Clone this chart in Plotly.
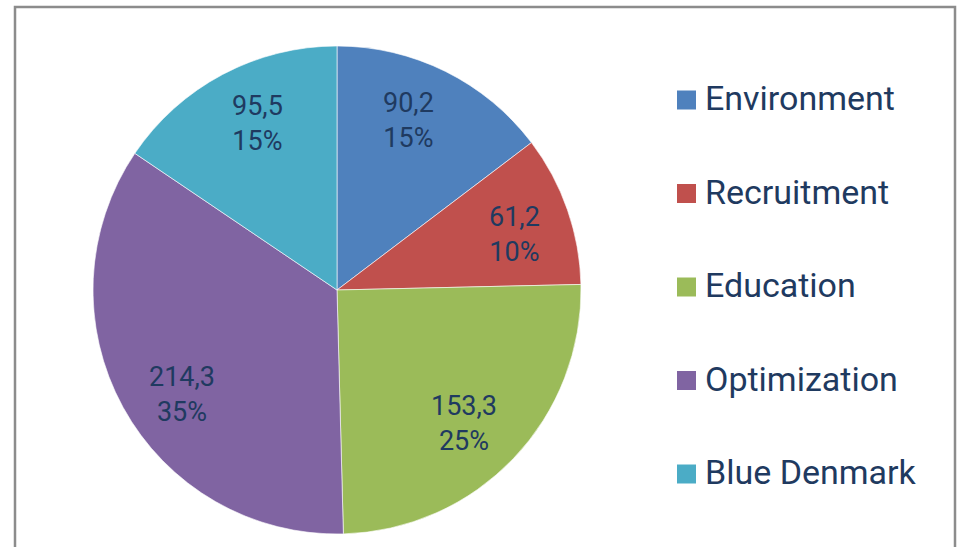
import math
import plotly.graph_objects as go

LABELS = ["Environment", "Recruitment", "Education", "Optimization", "Blue Denmark"]
VALUES = [90.2, 61.2, 153.3, 214.3, 95.5]
PERCENT_LABELS = ["15%", "10%", "25%", "35%", "15%"]
COLORS = ["#4F81BD", "#C0504D", "#9BBB59", "#8064A2", "#4BACC6"]

W, H = 957, 547
TEXT_COLOR = "#1F3A60"

value_text = [f"{v:.1f}".replace(".", ",") for v in VALUES]
slice_text = [f"{a}<br>{b}" for a, b in zip(value_text, PERCENT_LABELS)]

# pie geometry (pixels)
cx, cy, r = 337, 290, 244
LABEL_RADIUS_FRAC = 0.755
# small pixel nudges mimicking the spreadsheet's "best fit" label placement
LABEL_NUDGE = [(-10, -5), (4, 5), (-6, 6), (7, 16), (7, -4)]

fig = go.Figure(
    go.Pie(
        labels=LABELS,
        values=VALUES,
        text=slice_text,
        textinfo="none",
        sort=False,
        direction="clockwise",
        rotation=0,
        marker=dict(colors=COLORS, line=dict(color="white", width=0.6)),
        showlegend=False,
        hovertemplate="%{label}: %{value}<extra></extra>",
        domain=dict(x=[(cx - r) / W, (cx + r) / W], y=[1 - (cy + r) / H, 1 - (cy - r) / H]),
    )
)

annotations = []
# slice labels placed along each slice's mid-angle
total = sum(VALUES)
cum = 0.0
for v, t, (nx, ny) in zip(VALUES, slice_text, LABEL_NUDGE):
    mid = (cum + v / 2) / total * 2 * math.pi
    cum += v
    d = r * LABEL_RADIUS_FRAC
    px = cx + d * math.sin(mid) + nx
    py = cy - d * math.cos(mid) + ny
    annotations.append(dict(text=t, xref="paper", yref="paper",
                            x=px / W, y=1 - py / H, xanchor="center", yanchor="middle",
                            showarrow=False, align="center",
                            font=dict(family="Roboto", size=27, color=TEXT_COLOR)))

shapes = [
    dict(type="rect", xref="paper", yref="paper",
         x0=15 / W, x1=955 / W, y0=-0.05, y1=1 - 7 / H,
         line=dict(color="#8C8C8C", width=2.5), fillcolor="rgba(0,0,0,0)", layer="below")
]
leg_x0, sq = 677, 19
for i, (lab, col) in enumerate(zip(LABELS, COLORS)):
    yc = 100 + i * 93.5
    shapes.append(dict(type="rect", xref="paper", yref="paper",
                       x0=leg_x0 / W, x1=(leg_x0 + sq) / W,
                       y0=1 - (yc + sq / 2) / H, y1=1 - (yc - sq / 2) / H,
                       fillcolor=col, line=dict(width=0)))
    annotations.append(dict(text=lab, xref="paper", yref="paper",
                            x=703 / W, y=1 - (yc - 2) / H, xanchor="left", yanchor="middle",
                            showarrow=False,
                            font=dict(family="Roboto", size=34, color=TEXT_COLOR)))

fig.update_layout(
    width=W, height=H,
    margin=dict(l=0, r=0, t=0, b=0),
    paper_bgcolor="white",
    plot_bgcolor="white",
    shapes=shapes,
    annotations=annotations,
)

fig.write_html("out.html", config={"displayModeBar": False},
               post_script="document.body.style.margin='0';document.body.style.overflow='hidden';")
